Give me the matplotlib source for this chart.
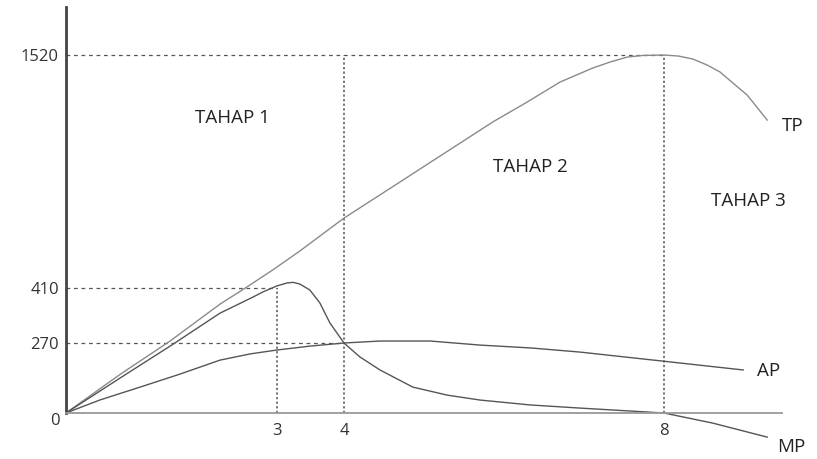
import numpy as np
import matplotlib
matplotlib.use("Agg")
import matplotlib.pyplot as plt

# Jumlah tenaga kerja (sumbu x) dan output (sumbu y)
tp_x = [0, 0.77, 1.48, 2.19, 2.55, 2.94, 3.34, 4.0, 4.7, 5.45, 5.86, 6.29, 6.7, 7.11, 7.33, 7.54, 7.74,
        8.0, 8.18, 8.36, 8.54, 8.7, 8.86, 9.04, 9.29]
tp_y = [0, 149, 275, 369, 410, 496, 586, 743, 915, 1100, 1201, 1296, 1391, 1458, 1487, 1510, 1518,
        1520, 1515, 1501, 1472, 1439, 1387, 1329, 1210]

mp_x = [0, 0.77, 1.48, 2.19, 2.66, 2.8, 3.0, 3.15, 3.24, 3.34, 3.49, 3.64, 3.79, 4.0, 4.2, 4.45,
        4.86, 5.29, 5.7, 6.33, 6.95, 8.0, 8.61, 9.29]
mp_y = [0, 135, 258, 346, 387, 400, 420, 434, 437, 429, 405, 372, 321, 270, 216, 166,
        100, 69, 50, 31, 19, 0, -39, -93]

ap_x = [0, 0.48, 1.1, 1.62, 2.19, 2.62, 3.0, 3.49, 4.0, 4.45, 5.08, 5.7, 6.33, 6.95, 7.96, 8.99]
ap_y = [0, 50, 104, 150, 204, 228, 243, 258, 270, 275, 275, 262, 251, 235, 201, 166]

x_ticks = [3, 4, 8]
y_ticks = [270, 410, 1520]

# titik-titik batas tahap produksi
mp_max = (3, 410)
ap_max = (4, 270)
tp_max = (8, 1520)

# skala gambar tidak linear, jadi pakai skala fungsi sepotong-sepotong
Y_DATA = [-1000, 0, 270, 410, 1520, 3000]
Y_PIX = [-1000 * 70 / 270, 0, 70, 125, 358, 358 + 1480 * 233 / 1110]
X_DATA = [-5, 0, 3, 4, 8, 15]
X_PIX = [-5 * 70.33, 0, 211, 278, 598, 598 + 7 * 80]


def y_fwd(v):
    return np.interp(v, Y_DATA, Y_PIX)


def y_inv(h):
    return np.interp(h, Y_PIX, Y_DATA)


def x_fwd(u):
    return np.interp(u, X_DATA, X_PIX)


def x_inv(p):
    return np.interp(p, X_PIX, X_DATA)


def main():
    plt.rcParams['font.family'] = ['Open Sans', 'DejaVu Sans']
    fig = plt.figure(figsize=(8.17, 4.59), dpi=100)
    ax = fig.add_axes([0, 0, 1, 1])
    ax.set_xscale('function', functions=(x_fwd, x_inv))
    ax.set_yscale('function', functions=(y_fwd, y_inv))
    ax.set_xlim(-0.938, 9.9125)
    ax.set_ylim(-177.4, 1782)

    # garis bantu putus-putus
    dash_h = (0, (3, 3))
    dash_v = (0, (1.5, 1.5))
    gc = '#555555'
    ax.plot([0, tp_max[0]], [tp_max[1], tp_max[1]], color=gc, lw=0.9, ls=dash_h)
    ax.plot([0, mp_max[0]], [mp_max[1], mp_max[1]], color=gc, lw=0.9, ls=dash_h)
    ax.plot([0, ap_max[0]], [ap_max[1], ap_max[1]], color=gc, lw=0.9, ls=dash_h)
    ax.plot([mp_max[0], mp_max[0]], [0, mp_max[1]], color=gc, lw=1.1, ls=dash_v)
    ax.plot([ap_max[0], ap_max[0]], [0, tp_max[1]], color=gc, lw=1.1, ls=dash_v)
    ax.plot([tp_max[0], tp_max[0]], [0, tp_max[1]], color=gc, lw=1.1, ls=dash_v)

    # kurva TP, MP, AP
    ax.plot(tp_x, tp_y, color='#8a8a8a', lw=1.0)
    ax.plot(mp_x, mp_y, color='#555555', lw=1.0)
    ax.plot(ap_x, ap_y, color='#555555', lw=1.0)

    # sumbu
    for s in ['top', 'right']:
        ax.spines[s].set_visible(False)
    ax.spines['left'].set_position(('data', 0))
    ax.spines['left'].set_bounds(0, 1749)
    ax.spines['left'].set_color('#444444')
    ax.spines['left'].set_linewidth(2)
    ax.spines['bottom'].set_position(('data', 0))
    ax.spines['bottom'].set_bounds(0, 9.475)
    ax.spines['bottom'].set_color('#999999')
    ax.spines['bottom'].set_linewidth(1.3)

    ax.set_xticks(x_ticks, [str(t) for t in x_ticks])
    ax.set_yticks(y_ticks, [str(t) for t in y_ticks])
    ax.xaxis.set_minor_locator(matplotlib.ticker.NullLocator())
    ax.yaxis.set_minor_locator(matplotlib.ticker.NullLocator())
    ax.tick_params(axis='both', length=0, labelsize=12, colors='#333333')
    ax.tick_params(axis='y', pad=5)
    ax.tick_params(axis='x', pad=7)
    ax.text(-0.156, -31, '0', fontsize=12, color='#333333', ha='center', va='center')

    # label
    fs = 13.5
    tc = '#222222'
    ax.text(2.36, 1220, 'TAHAP 1', fontsize=fs, color=tc, ha='center', va='center')
    ax.text(6.325, 986, 'TAHAP 2', fontsize=fs, color=tc, ha='center', va='center')
    ax.text(9.05, 824, 'TAHAP 3', fontsize=fs, color=tc, ha='center', va='center')
    ax.text(9.61, 1182, 'TP', fontsize=fs, color=tc, ha='center', va='center')
    ax.text(9.31, 162, 'AP', fontsize=fs, color=tc, ha='center', va='center')
    ax.text(9.59, -131, 'MP', fontsize=fs, color=tc, ha='center', va='center')

    fig.savefig('out.png', dpi=100)


if __name__ == "__main__":
    main()
